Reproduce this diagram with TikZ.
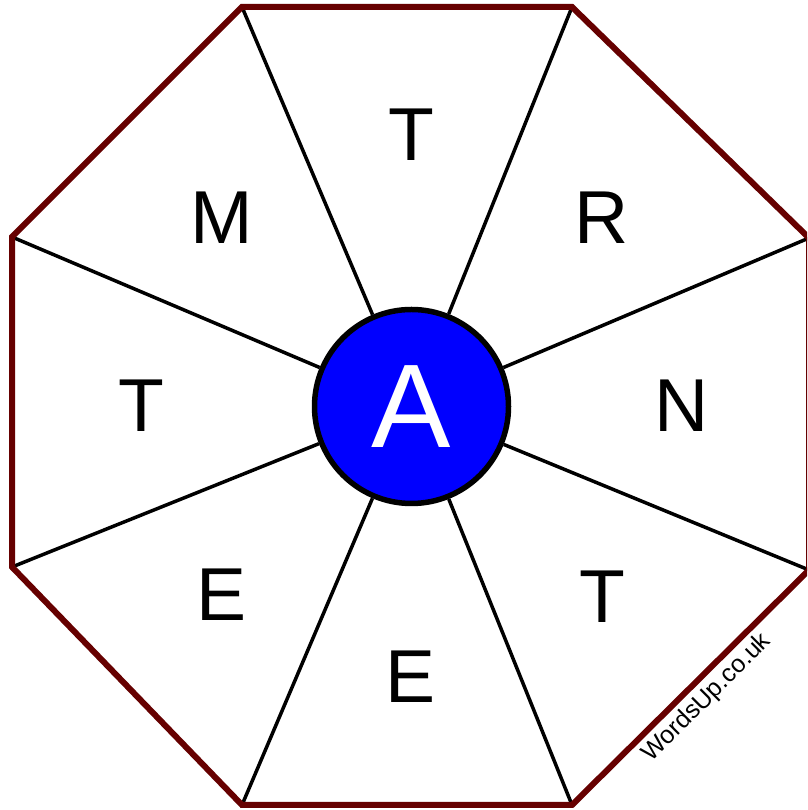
\documentclass[tikz,border=0pt]{standalone}
\usepackage{fontspec}
\setmainfont{Liberation Sans}
\definecolor{rimred}{RGB}{102,0,0}
\definecolor{hubblue}{RGB}{0,0,255}
\begin{document}
\begin{tikzpicture}[x=1pt, y=1pt,
    rim/.style={draw=rimred, line width=6pt, line join=miter},
    spoke/.style={draw=black, line width=3.5pt},
    hub/.style={circle, draw=black, line width=5.5pt, fill=hubblue,
      minimum size=194pt, inner sep=0pt, text=white,
      font=\fontsize{119}{119}\selectfont},
    letter/.style={inner sep=0pt, font=\fontsize{75}{75}\selectfont},
    credit/.style={rotate=45, inner sep=0pt, font=\fontsize{25}{25}\selectfont}
  ]
    \useasboundingbox (0,0) rectangle (807,810);
    \clip (0,0) rectangle (807,810);
    \fill[white] (0,0) rectangle (807,810);

    % Ecken des Achtecks
    \coordinate (ne) at (809,572);
    \coordinate (nn) at (572,803);
    \coordinate (nw) at (242,803);
    \coordinate (wn) at (12,573);
    \coordinate (ws) at (12,243);
    \coordinate (sw) at (242,5);
    \coordinate (ss) at (572,5);
    \coordinate (se) at (809,240);

    \node[hub] (center) at (411.5,403.5) {A};

    % Speichen
    \draw[spoke] (ne) -- (center);
    \draw[spoke] (nn) -- (center);
    \draw[spoke] (nw) -- (center);
    \draw[spoke] (wn) -- (center);
    \draw[spoke] (ws) -- (center);
    \draw[spoke] (sw) -- (center);
    \draw[spoke] (ss) -- (center);
    \draw[spoke] (se) -- (center);

    % Rand
    \draw[rim] (ne) -- (nn) -- (nw) -- (wn) -- (ws) -- (sw) -- (ss) -- (se) -- cycle;

    % Buchstaben
    \node[letter] (top) at (411,675) {T};
    \node[letter] (topright) at (602,592) {R};
    \node[letter] (right) at (682,404) {N};
    \node[letter] (botright) at (602,213) {T};
    \node[letter] (bottom) at (411,133) {E};
    \node[letter] (botleft) at (222,215) {E};
    \node[letter] (left) at (141,404) {T};
    \node[letter] (topleft) at (222,592) {M};

    \node[credit] (site) at (707,112) {WordsUp.co.uk};
\end{tikzpicture}
\end{document}
